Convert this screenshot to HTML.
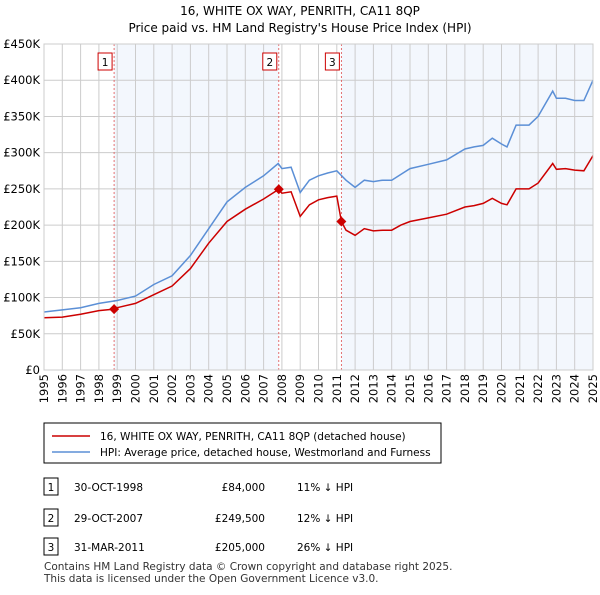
<!DOCTYPE html>
<html><head><meta charset="utf-8"><style>
body{margin:0;background:#fff;font-family:"Liberation Sans","DejaVu Sans",sans-serif;}
svg text{font-family:"DejaVu Sans","Liberation Sans",sans-serif;}
</style></head><body>
<svg id="c" width="600" height="590" xmlns="http://www.w3.org/2000/svg">
<text x="300" y="15" text-anchor="middle" font-size="12">16, WHITE OX WAY, PENRITH, CA11 8QP</text>
<text x="300" y="32" text-anchor="middle" font-size="12">Price paid vs. HM Land Registry's House Price Index (HPI)</text>
<g id="plot"></g>
<rect x="44" y="423" width="397" height="40" fill="#fff" stroke="#000"/>
<line x1="52" y1="436" x2="90" y2="436" stroke="#cc0000" stroke-width="1.5"/>
<text x="100" y="440" font-size="10.5">16, WHITE OX WAY, PENRITH, CA11 8QP (detached house)</text>
<line x1="52" y1="452" x2="90" y2="452" stroke="#5b8fd6" stroke-width="1.5"/>
<text x="100" y="456" font-size="10.5">HPI: Average price, detached house, Westmorland and Furness</text>
<g id="table" font-size="10.5"></g>
<text x="44" y="570" font-size="10.5" fill="#333">Contains HM Land Registry data © Crown copyright and database right 2025.</text>
<text x="44" y="582" font-size="10.5" fill="#333">This data is licensed under the Open Government Licence v3.0.</text>
</svg>
<script>
const hpiYears=[1995,1996,1997,1998,1999,2000,2001,2002,2003,2004,2005,2006,2007,2007.8,2008,2008.5,2009,2009.5,2010,2010.5,2011,2011.5,2012,2012.5,2013,2013.5,2014,2014.5,2015,2016,2017,2018,2018.5,2019,2019.5,2020,2020.3,2020.8,2021.5,2022,2022.8,2023,2023.5,2024,2024.5,2025];
const hpiValues=[80,83,86,92,96,102,118,130,158,195,232,252,268,285,278,280,245,262,268,272,275,262,252,262,260,262,262,270,278,284,290,305,308,310,320,312,308,338,338,350,385,375,375,372,372,400];
const priceYears=[1995,1996,1997,1998,1998.83,1999,2000,2001,2002,2003,2004,2005,2006,2007,2007.83,2008,2008.5,2009,2009.5,2010,2010.5,2011,2011.25,2011.5,2012,2012.5,2013,2013.5,2014,2014.5,2015,2016,2017,2018,2018.5,2019,2019.5,2020,2020.3,2020.8,2021.5,2022,2022.8,2023,2023.5,2024,2024.5,2025];
const priceValues=[72,73,77,82,84,86,92,104,116,140,175,205,222,236,249.5,244,246,212,228,235,238,240,205,193,186,195,192,193,193,200,205,210,215,225,227,230,237,230,228,250,250,258,285,277,278,276,275,296];
const saleYears=[1998.83,2007.83,2011.25];
const saleValues=[84,249.5];saleValues.push(205);
const saleLabels=["1","2","3"];
const saleDates=["30-OCT-1998","29-OCT-2007","31-MAR-2011"];
const salePrices=["£84,000","£249,500","£205,000"];
const saleDiffs=["11% ↓ HPI","12% ↓ HPI","26% ↓ HPI"];
const yTicks=[0,50,100,150,200,250,300,350,400,450];
const yTickLabels=["£0","£50K","£100K","£150K","£200K","£250K","£300K","£350K","£400K","£450K"];
const xTicks=[1995,1996,1997,1998,1999,2000,2001,2002,2003,2004,2005,2006,2007,2008,2009,2010,2011,2012,2013,2014,2015,2016,2017,2018,2019,2020,2021,2022,2023,2024,2025];

const NS="http://www.w3.org/2000/svg";
const L=44,R=593,T=44,B=370;
const X=y=>L+(y-1995)/30*(R-L);
const Y=v=>B-v/450*(B-T);
const g=document.getElementById('plot');
function mk(t,a,p){const e=document.createElementNS(NS,t);for(const k in a)e.setAttribute(k,a[k]);(p||g).appendChild(e);return e;}
let e;
e=mk('rect',{x:L,y:T,width:R-L,height:B-T,fill:'#fff'});


e=mk('rect',{x:X(saleYears[0]),y:T,width:X(saleYears[1])-X(saleYears[0]),height:B-T,fill:'#eef3fc',opacity:0.7});


e=mk('rect',{x:X(saleYears[2]),y:T,width:R-X(saleYears[2]),height:B-T,fill:'#eef3fc',opacity:0.7});


yTicks.forEach((v,i)=>{
 e=mk('line',{x1:L,x2:R,y1:Y(v),y2:Y(v),stroke:'#ccc'});
 
 
 e=mk('text',{x:L-4,y:Y(v)+4,'text-anchor':'end','font-size':11.5});
 e.textContent=yTickLabels[i];
 
 
});
xTicks.forEach(y=>{
 e=mk('line',{x1:X(y),x2:X(y),y1:T,y2:B,stroke:'#ccc'});
 
 
 e=mk('text',{transform:`translate(${X(y)+4},${B+4}) rotate(-90)`,'text-anchor':'end','font-size':11.5});
 e.textContent=y;
 
 
});
saleYears.forEach((y,i)=>{
 e=mk('line',{x1:X(y),x2:X(y),y1:T,y2:B,stroke:'#e05050','stroke-dasharray':'2,2','stroke-width':0.8});
 
 
 e=mk('rect',{x:X(y)-16,y:53,width:14,height:17,fill:'#fff',stroke:'#cc0000'});
 
 
 e=mk('text',{x:X(y)-9,y:66,'text-anchor':'middle','font-size':10.5});
 e.textContent=saleLabels[i];
 
 
});
function path(xs,vs){return xs.map((y,i)=>(i?'L':'M')+X(y).toFixed(1)+','+Y(vs[i]).toFixed(1)).join('');}
e=mk('path',{d:path(hpiYears,hpiValues),fill:'none',stroke:'#5b8fd6','stroke-width':1.5});


e=mk('path',{d:path(priceYears,priceValues),fill:'none',stroke:'#cc0000','stroke-width':1.5});


saleYears.forEach((y,i)=>{
 const cx=X(y),cy=Y(saleValues[i]);
 e=mk('path',{d:`M${cx},${cy-5}L${cx+5},${cy}L${cx},${cy+5}L${cx-5},${cy}Z`,fill:'#cc0000'});
 
 
});
mk('rect',{x:L,y:T,width:R-L,height:B-T,fill:'none',stroke:'#ccc'});
const tb=document.getElementById('table');
const rowsY=[488,519,548];
rowsY.forEach((ry,i)=>{
 e=mk('rect',{x:44,y:ry-10,width:14,height:17,fill:'#fff',stroke:'#000'},tb);
 
 
 const cells=[[51,saleLabels[i],'middle'],[74,saleDates[i],'start'],[265,salePrices[i],'end'],[297,saleDiffs[i],'start']];
 cells.forEach(c=>{
  e=mk('text',{x:c[0],y:ry+3,'text-anchor':c[2]},tb);
  e.textContent=c[1];
  
  
 });
});
</script>
</body></html>
